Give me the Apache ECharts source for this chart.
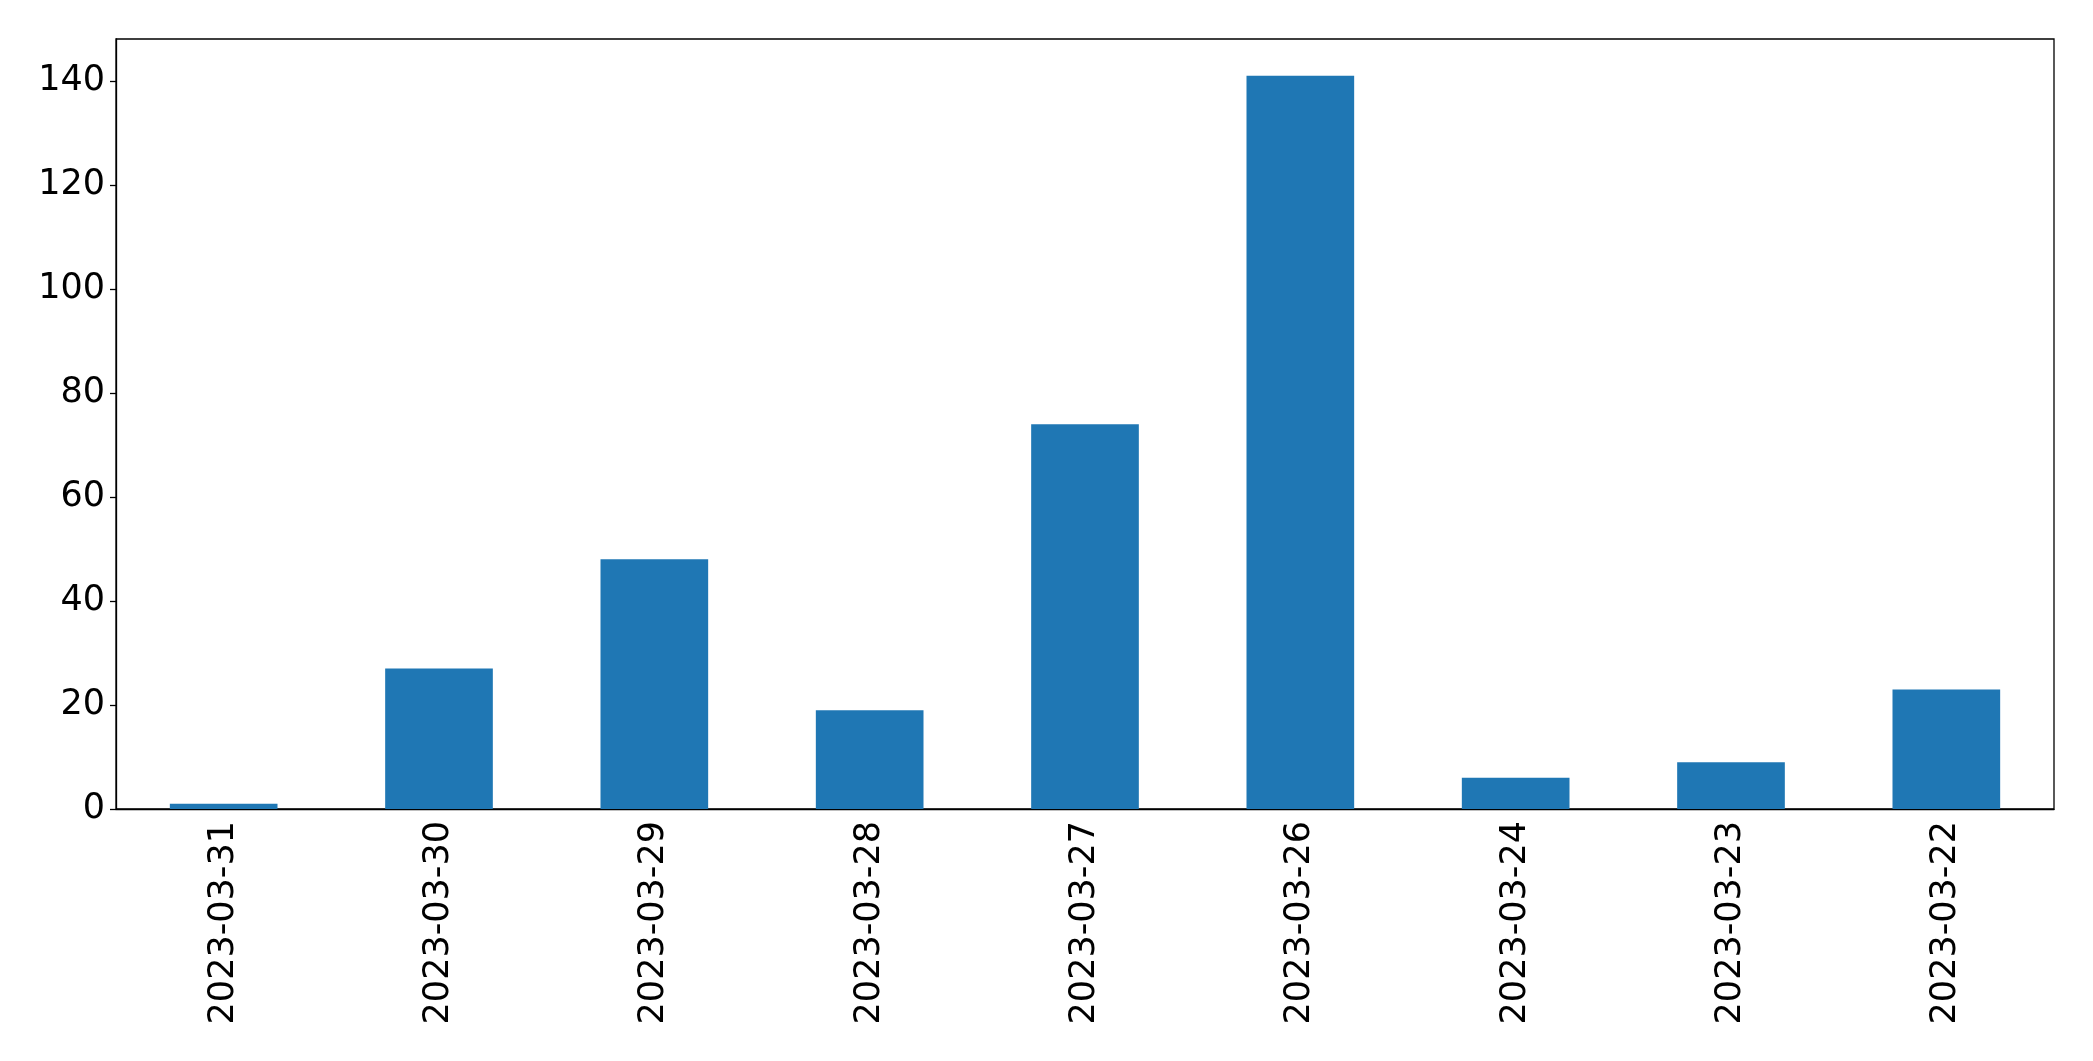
<!DOCTYPE html>
<html>
<head>
<meta charset="utf-8">
<script src="https://cdn.jsdelivr.net/npm/echarts@6/dist/echarts.min.js"></script>
<style>html,body{margin:0;padding:0;background:#fff;}#c{width:2093px;height:1061px;}</style>
</head>
<body>
<div id="c"></div>
<script>
const categories = ["2023-03-31","2023-03-30","2023-03-29","2023-03-28","2023-03-27","2023-03-26","2023-03-24","2023-03-23","2023-03-22"];
const counts = [1, 27, 48, 19, 74, 141, 6, 9, 23];
const yTicks = [0, 20, 40, 60, 80, 100, 120, 140];

const chart = echarts.init(document.getElementById('c'), null, {renderer: 'canvas'});
chart.setOption({
  animation: false,
  backgroundColor: '#ffffff',
  grid: {left: 116, top: 39, right: 39, bottom: 252, show: true, borderColor: '#000', borderWidth: 1.3, backgroundColor: 'transparent'},
  xAxis: {
    type: 'category',
    data: categories,
    axisLine: {lineStyle: {color: '#000', width: 1.3}},
    axisTick: {alignWithLabel: true, length: 6, lineStyle: {color: '#000', width: 1.3}},
    axisLabel: {rotate: 90, margin: 12, color: '#000', fontFamily: 'DejaVu Sans', fontSize: 35, interval: 0},
    splitLine: {show: false}
  },
  yAxis: {
    type: 'value',
    min: 0,
    max: 148.05,
    interval: 20,
    axisLine: {show: true, lineStyle: {color: '#000', width: 1.3}},
    axisTick: {show: true, length: 6, lineStyle: {color: '#000', width: 1.3}, customValues: yTicks},
    axisLabel: {margin: 11, color: '#000', fontFamily: 'DejaVu Sans', fontSize: 35, customValues: yTicks},
    splitLine: {show: false}
  },
  series: [{
    type: 'bar',
    data: counts,
    barWidth: '50%',
    itemStyle: {color: '#1f77b4'}
  }]
});
</script>
</body>
</html>
